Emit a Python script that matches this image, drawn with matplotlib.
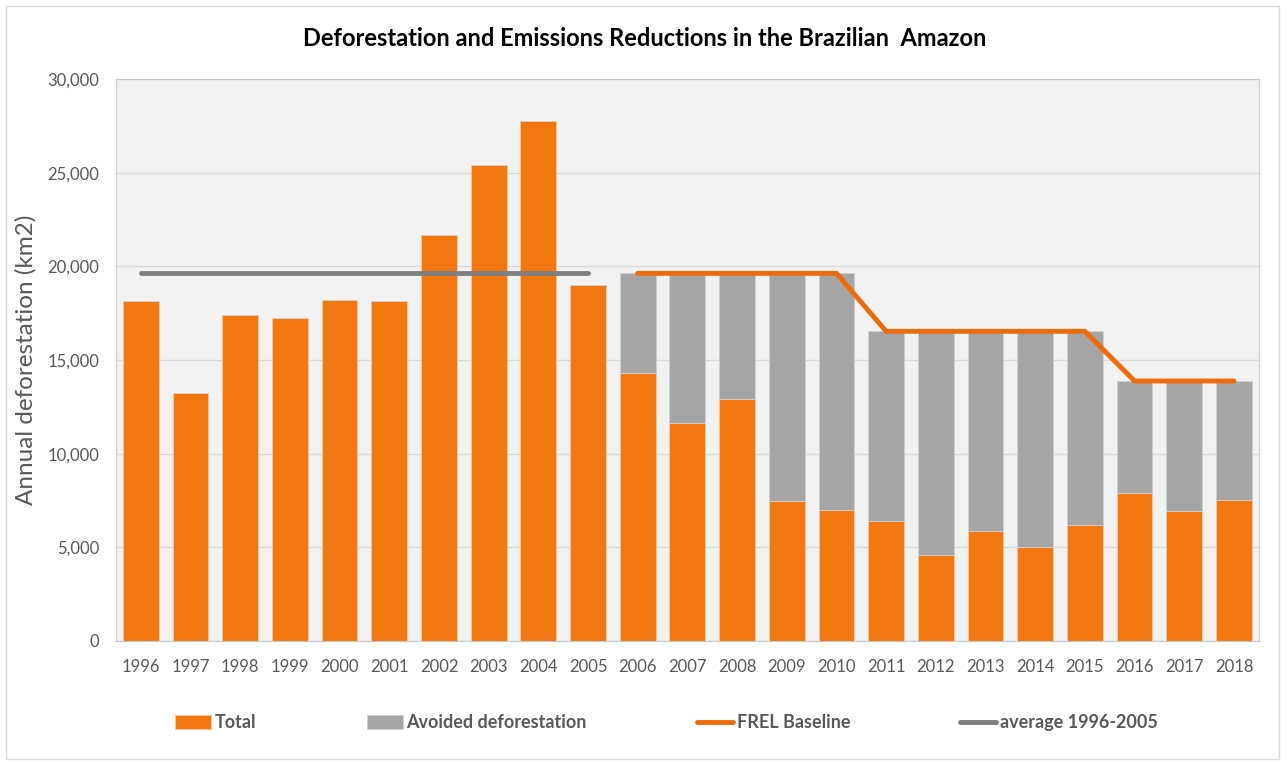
import matplotlib.pyplot as plt
import numpy as np
from matplotlib.patches import Rectangle
from matplotlib.ticker import FuncFormatter

plt.rcParams['font.family'] = ['Lato', 'DejaVu Sans']

years = [str(y) for y in range(1996, 2019)]
total = [18161, 13227, 17383, 17259, 18226, 18165, 21651, 25396, 27772, 19014,
         14286, 11651, 12911, 7464, 7000, 6418, 4571, 5891, 5012, 6207,
         7893, 6947, 7536]
# FREL baseline for 2006-2018
frel_years = years[10:]
frel = [19625, 19625, 19625, 19625, 19625,
        16531, 16531, 16531, 16531, 16531,
        13880, 13880, 13880]
avg_years = years[:10]
avg = [19625] * 10

orange = '#F37710'
grey = '#A5A5A5'
txt = '#595959'

x = np.arange(len(years))
avoided = [0] * 10 + [f - t for f, t in zip(frel, total[10:])]

fig = plt.figure(figsize=(12.87, 7.64), dpi=100)
ax = fig.add_axes([0.0901, 0.161, 0.888, 0.7356])
ax.set_facecolor('#F2F2F2')

b1 = ax.bar(x, total, width=0.72, color=orange, edgecolor='#F9C9A0', linewidth=0.6, label='Total', zorder=2)
b2 = ax.bar(x, avoided, width=0.72, bottom=total, color=grey, edgecolor='#D0D0D0', linewidth=0.6,
            label='Avoided deforestation', zorder=2)
l1, = ax.plot(x[10:], frel, color='#EE6A0A', linewidth=3.5, solid_capstyle='round', label='FREL Baseline', zorder=3)
l2, = ax.plot(x[:10], avg, color='#7F7F7F', linewidth=3.5, solid_capstyle='round', label='average 1996-2005', zorder=3)

ax.set_xlim(-0.5, len(years) - 0.5)
ax.set_ylim(0, 30000)
ax.set_yticks(range(0, 30001, 5000))
ax.yaxis.set_major_formatter(FuncFormatter(lambda v, p: f'{int(v):,}'))
ax.set_xticks(x)
ax.set_xticklabels(years)
ax.grid(axis='y', color='#D9D9D9', linewidth=1, zorder=0)
ax.set_axisbelow(True)
for s in ax.spines.values():
    s.set_color('#C8C8C8')
    s.set_linewidth(0.8)
ax.tick_params(length=0, labelsize=12, colors=txt)
ax.tick_params(axis='x', pad=13)
ax.tick_params(axis='y', pad=12)
ax.set_ylabel('Annual deforestation (km2)', fontsize=17.5, color=txt, labelpad=8)

fig.text(0.501, 0.95, 'Deforestation and Emissions Reductions in the Brazilian  Amazon',
         ha='center', va='center', fontsize=17, fontweight='bold', color='black')

leg = fig.legend([b1, b2, l1, l2], ['Total', 'Avoided deforestation', 'FREL Baseline', 'average 1996-2005'],
                 loc='center', bbox_to_anchor=(0.518, 0.054), ncol=4, frameon=False,
                 fontsize=13, handlelength=2.0, handleheight=0.75, columnspacing=6.1,
                 handletextpad=0.2)
for t in leg.get_texts():
    t.set_color(txt)
    t.set_fontweight('bold')

fig.patches.append(Rectangle((0.005, 0.006), 0.989, 0.986, transform=fig.transFigure,
                             fill=False, edgecolor='#D9D9D9', linewidth=1))

fig.savefig('out.png', dpi=100)
